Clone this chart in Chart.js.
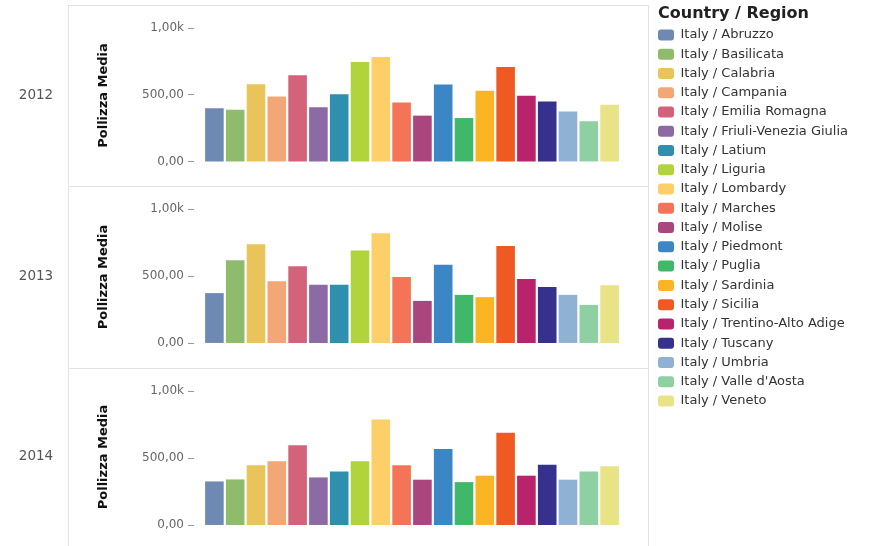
<!DOCTYPE html>
<html>
<head>
<meta charset="utf-8">
<script src="https://cdn.jsdelivr.net/npm/chart.js@4/dist/chart.umd.min.js"></script>
<style>
  html, body { margin: 0; padding: 0; background: #ffffff; }
  #wrap { width: 877px; height: 546px; }
</style>
</head>
<body>
<div id="wrap"><canvas id="chart" width="877" height="546"></canvas></div>
<script>
// Average policy value ("Pollizza Media") per Italian region, one panel per year
const regions = [
  'Italy / Abruzzo', 'Italy / Basilicata', 'Italy / Calabria', 'Italy / Campania',
  'Italy / Emilia Romagna', 'Italy / Friuli-Venezia Giulia', 'Italy / Latium', 'Italy / Liguria',
  'Italy / Lombardy', 'Italy / Marches', 'Italy / Molise', 'Italy / Piedmont',
  'Italy / Puglia', 'Italy / Sardinia', 'Italy / Sicilia', 'Italy / Trentino-Alto Adige',
  'Italy / Tuscany', 'Italy / Umbria', "Italy / Valle d'Aosta", 'Italy / Veneto'
];
const years = ['2012', '2013', '2014'];
const values2012 = [398, 386, 577, 484, 644, 405, 501, 742, 779, 440, 342, 575, 324, 528, 705, 491, 447, 373, 300, 423];
const values2013 = [372, 618, 736, 460, 573, 435, 435, 691, 819, 492, 314, 583, 359, 342, 724, 477, 417, 359, 284, 430];
const values2014 = [325, 340, 445, 475, 595, 355, 400, 475, 788, 445, 338, 568, 320, 368, 688, 368, 450, 338, 400, 438];
const yTickValues = [0, 500, 1000];
const yTickLabels = ['0,00', '500,00', '1,00k'];
const axisTitle = 'Pollizza Media';
const legendTitle = 'Country / Region';

// one colour per region
const palette = [
  '#6f89b5', '#8fbc6c', '#e8c45a', '#f3a676', '#d3637a', '#8c6ba5', '#2e8fae', '#b1d43c', '#fdcf68', '#f37457',
  '#a9467e', '#3b87c6', '#40b86a', '#fbb424', '#ef5a22', '#b9236c', '#35318c', '#8fb1d4', '#8ed0a2', '#e8e386'
];

const FONT = '"DejaVu Sans", "Open Sans", sans-serif';
const yearValues = [values2012, values2013, values2014];
const axisIds = years.map(y => 'y' + y);
// value window of each panel (bars start at 0)
const ranges = [
  { min: -183, max: 1168 },
  { min: -187, max: 1172 },
  { min: -157, max: 1172 }
];

function yearAxis(i) {
  return {
    type: 'linear',
    position: 'left',
    stack: 'years',
    stackWeight: ranges[i].max - ranges[i].min,
    min: ranges[i].min,
    max: ranges[i].max,
    afterBuildTicks: s => { s.ticks = yTickValues.map(v => ({ value: v })); },
    afterFit: s => {
      s.width = 204;
      // panels butt against each other: no extra room for edge labels
      s.paddingTop = 0;
      s.paddingBottom = 0;
    },
    grid: { display: false },
    border: { display: false },
    ticks: {
      padding: 12,
      color: '#666666',
      font: { family: FONT, size: 12 },
      callback: (v, idx) => yTickLabels[idx]
    },
    title: {
      display: true,
      text: axisTitle,
      color: '#111111',
      font: { family: FONT, size: 13, weight: 'bold' },
      padding: { top: 96, bottom: 0 }
    }
  };
}

const scales = {
  x: { display: false, offset: true }
};
// stacked left axes are laid out last-defined on top, so add the latest year first
for (let i = axisIds.length - 1; i >= 0; i--) {
  scales[axisIds[i]] = yearAxis(i);
}
// empty strip between the plot and the legend
scales.yGap = {
  type: 'linear', position: 'right', display: true,
  grid: { display: false }, border: { display: false }, ticks: { display: false },
  afterFit: s => { s.width = 38; s.paddingTop = 0; s.paddingBottom = 0; }
};

// panel frame, tick marks and year row labels
const panelFrame = {
  id: 'panelFrame',
  beforeDraw(chart) {
    const { ctx, chartArea } = chart;
    const axes = axisIds.map(id => chart.scales[id]);
    const left = 68;
    const right = chartArea.right + 28;
    ctx.save();
    ctx.strokeStyle = '#e2e2e2';
    ctx.lineWidth = 1;
    ctx.beginPath();
    ctx.moveTo(left + 0.5, chartArea.top);
    ctx.lineTo(left + 0.5, chart.height);
    ctx.moveTo(right + 0.5, chartArea.top);
    ctx.lineTo(right + 0.5, chart.height);
    axes.forEach(s => {
      const y = Math.round(s.top) + 0.5;
      ctx.moveTo(left, y);
      ctx.lineTo(right + 1, y);
    });
    ctx.stroke();

    ctx.strokeStyle = '#9a9a9a';
    ctx.beginPath();
    axes.forEach(s => s.ticks.forEach(t => {
      const y = Math.round(s.getPixelForValue(t.value)) + 0.5;
      ctx.moveTo(chartArea.left - 16, y);
      ctx.lineTo(chartArea.left - 10, y);
    }));
    ctx.stroke();

    ctx.fillStyle = '#555555';
    ctx.font = '13.5px ' + FONT;
    ctx.textAlign = 'center';
    ctx.textBaseline = 'middle';
    axes.forEach((s, i) => ctx.fillText(years[i], 36, (s.top + s.bottom) / 2));
    ctx.restore();
  }
};

new Chart(document.getElementById('chart'), {
  type: 'bar',
  data: {
    labels: regions,
    datasets: years.map((y, i) => ({
      label: y,
      data: yearValues[i],
      yAxisID: axisIds[i],
      backgroundColor: palette,
      borderWidth: 0,
      grouped: false,
      barPercentage: 0.894,
      categoryPercentage: 1
    }))
  },
  options: {
    responsive: false,
    animation: false,
    devicePixelRatio: 1,
    layout: { autoPadding: false, padding: { top: 5, right: 19, bottom: 0, left: 0 } },
    scales,
    plugins: {
      tooltip: { enabled: false },
      legend: {
        position: 'right',
        align: 'start',
        maxWidth: 200,
        title: {
          display: true,
          text: legendTitle,
          position: 'start',
          color: '#222222',
          font: { family: FONT, size: 16, weight: 'bold' },
          padding: { top: 1, bottom: 3.3 }
        },
        labels: {
          padding: 0,
          boxWidth: 16,
          boxHeight: 11,
          useBorderRadius: true,
          borderRadius: 3,
          color: '#333333',
          font: { family: FONT, size: 13, lineHeight: 19.26 / 13 },
          generateLabels: () => regions.map((r, i) => ({
            text: [r],
            fillStyle: palette[i],
            strokeStyle: palette[i],
            lineWidth: 0,
            borderRadius: 3,
            fontColor: '#333333',
            hidden: false,
            index: i
          }))
        }
      }
    }
  },
  plugins: [panelFrame]
});
</script>
</body>
</html>
